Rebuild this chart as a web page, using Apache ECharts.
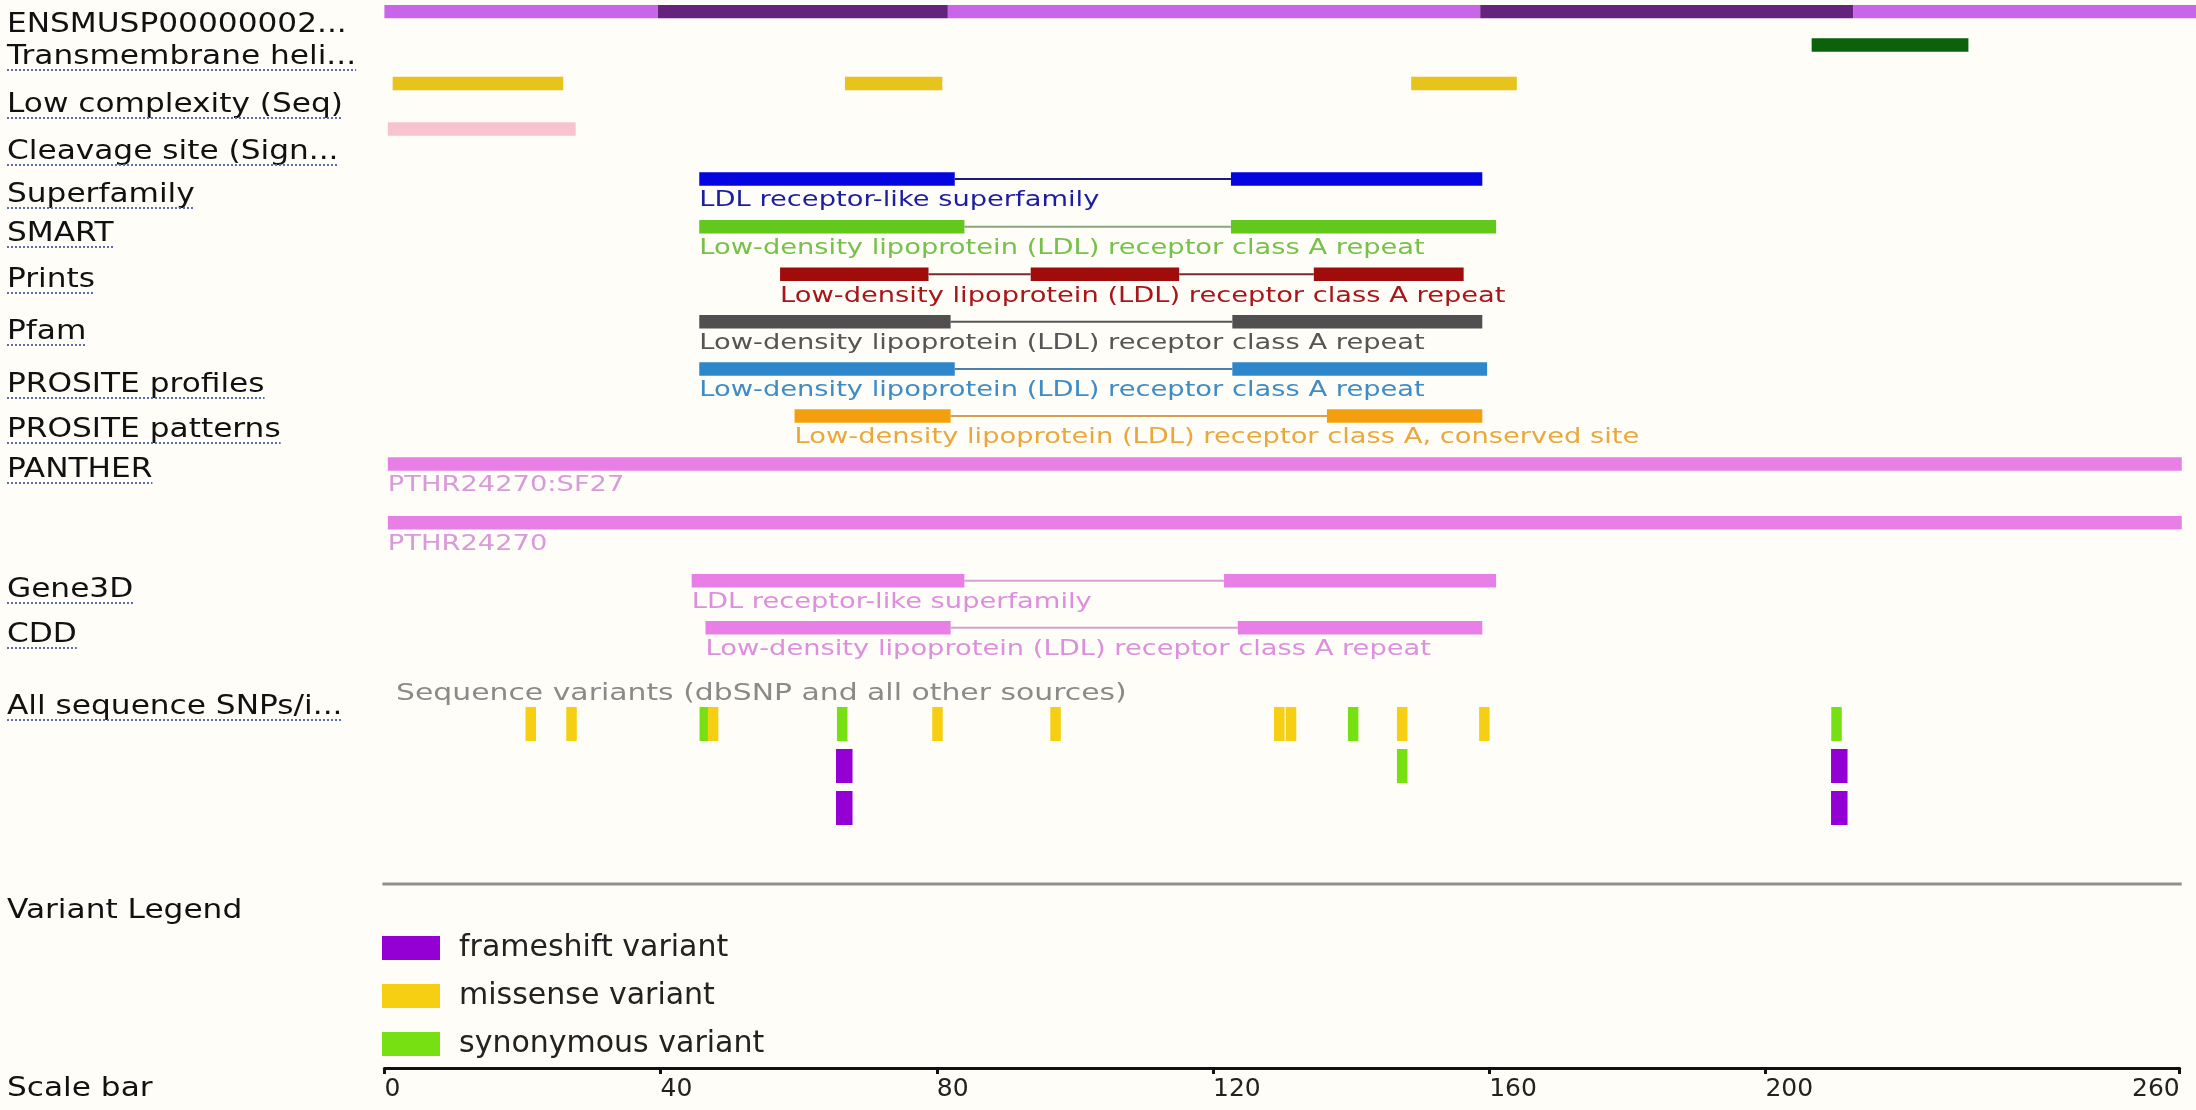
<!DOCTYPE html>
<html><head><meta charset="utf-8">
<script src="https://cdn.jsdelivr.net/npm/echarts@6/dist/echarts.min.js"></script>
<style>html,body{margin:0;padding:0;background:#fefdf7}#c{width:2196px;height:1110px}</style>
</head><body><div id="c"></div>
<script>
// ================= DATA (residue positions) =================
const rowLabels = ['ENSMUSP00000002...', 'Transmembrane heli...', 'Low complexity (Seq)', 'Cleavage site (Sign...',
  'Superfamily', 'SMART', 'Prints', 'Pfam', 'PROSITE profiles', 'PROSITE patterns', 'PANTHER', 'Gene3D', 'CDD',
  'All sequence SNPs/i...', 'Variant Legend', 'Scale bar'];
const exonBoundaries = [0, 39.6, 81.6, 158.7, 212.7, 262.5];
const transmembrane = [[206.7, 229.4]];
const lowComplexity = [[1.2, 25.9], [66.7, 80.8], [148.7, 164.0]];
const cleavageSite = [[0.5, 27.7]];
const superfamily = [[45.6, 82.6], [122.6, 159.0]];
const smart = [[45.6, 84.0], [122.6, 161.0]];
const prints = [[57.3, 78.8], [93.6, 115.1], [134.6, 156.3]];
const pfam = [[45.6, 82.0], [122.8, 159.0]];
const prositeProfiles = [[45.6, 82.6], [122.8, 159.7]];
const prositePatterns = [[59.4, 82.0], [136.5, 159.0]];
const pantherSF27 = [[0.5, 260.3]];
const panther = [[0.5, 260.3]];
const gene3d = [[44.5, 84.0], [121.6, 161.0]];
const cdd = [[46.5, 82.0], [123.6, 159.0]];
const ldlRepeat = 'Low-density lipoprotein (LDL) receptor class A repeat';
const ldlSuperfamily = 'LDL receptor-like superfamily';
const variantCaption = 'Sequence variants (dbSNP and all other sources)';
const variantTypes = ['frameshift variant', 'missense variant', 'synonymous variant'];
// [residue position, stack lane]
const frameshiftVariants = [[66.6, 2], [66.6, 3], [210.7, 2], [210.7, 3]];
const missenseVariants = [[21.2, 1], [27.1, 1], [47.6, 1], [80.1, 1], [97.2, 1], [129.6, 1], [131.3, 1], [147.4, 1], [159.3, 1]];
const synonymousVariants = [[46.4, 1], [66.3, 1], [140.3, 1], [147.4, 2], [210.3, 1]];
const scaleTicks = [0, 40, 80, 120, 160, 200, 260];
const scaleMax = 260;

// ================= LAYOUT / STYLE =================
const FONT = '"DejaVu Sans", Verdana, sans-serif';
const BAR_H = 13.4;
const SX = 1.27;
const tracks = [
  {seg: transmembrane, top: 38.3, color: '#0b620b'},
  {seg: lowComplexity, top: 76.8, color: '#e7c31c'},
  {seg: cleavageSite, top: 122.3, color: '#f7c4cd'},
  {seg: superfamily, top: 172.3, color: '#0505e0', line: '#1b1b7a', text: '#1d1da0', label: ldlSuperfamily},
  {seg: smart, top: 220, color: '#62c81c', line: '#8aa67a', text: '#77c04a', label: ldlRepeat},
  {seg: prints, top: 267.5, color: '#a00c0c', line: '#7a2a2a', text: '#a8161a', label: ldlRepeat},
  {seg: pfam, top: 315, color: '#505050', line: '#555555', text: '#555555', label: ldlRepeat},
  {seg: prositeProfiles, top: 362.3, color: '#2f87cb', line: '#4a7fa8', text: '#3e8cc6', label: ldlRepeat},
  {seg: prositePatterns, top: 409.3, color: '#f4a00e', line: '#d8a050', text: '#eaa83c', label: 'Low-density lipoprotein (LDL) receptor class A, conserved site'},
  {seg: pantherSF27, top: 457.3, color: '#e77fe7', text: '#d99ad9', label: 'PTHR24270:SF27'},
  {seg: panther, top: 516, color: '#e77fe7', text: '#d99ad9', label: 'PTHR24270'},
  {seg: gene3d, top: 574, color: '#e77fe7', line: '#d6a0d6', text: '#dd8fdd', label: ldlSuperfamily},
  {seg: cdd, top: 621, color: '#e77fe7', line: '#d6a0d6', text: '#dd8fdd', label: ldlRepeat}
];
const rowBaselines = [33, 65, 113, 160, 203, 242, 288, 340, 393, 438, 478, 598, 643, 715, 919, 1097];
const rowUnderlined = [false, true, true, true, true, true, true, true, true, true, true, true, true, true, false, false];
const laneTop = {1: 707, 2: 749, 3: 791};
const LANE_H = 34;
const variantColors = ['#9400d3', '#f7cf12', '#76e012'];
const variantWidths = [16.5, 10.5, 10.5];

// ================= BUILD =================
const chart = echarts.init(document.getElementById('c'), null, {renderer: 'canvas'});
const measureCtx = document.createElement('canvas').getContext('2d');
function textWidth(t, size) { measureCtx.font = size + 'px ' + FONT; return measureCtx.measureText(t).width; }

const domainItems = [];
tracks.forEach((tr, ti) => tr.seg.forEach((s, si) => domainItems.push({value: [s[0], s[1]], ti: ti, si: si})));

const exonItems = [];
for (let i = 0; i < exonBoundaries.length - 1; i++) exonItems.push({value: [exonBoundaries[i], exonBoundaries[i + 1]], idx: i});

function domainRender(params, api) {
  const it = domainItems[params.dataIndex];
  const tr = tracks[it.ti];
  const top = api.coord([0, tr.top])[1];
  const x0 = api.coord([api.value(0), tr.top])[0];
  const x1 = api.coord([api.value(1), tr.top])[0];
  const children = [{type: 'rect', shape: {x: x0, y: top, width: x1 - x0, height: BAR_H}, style: {fill: tr.color}}];
  if (it.si > 0 && tr.line) {
    const prevEnd = api.coord([tr.seg[it.si - 1][1], tr.top])[0];
    children.push({type: 'line', shape: {x1: prevEnd, y1: top + BAR_H / 2, x2: x0, y2: top + BAR_H / 2}, style: {stroke: tr.line, lineWidth: 2}});
  }
  if (it.si === 0 && tr.label) {
    const F = 21.5;
    children.push({type: 'text', x: x0, y: top + 35 - 0.3 * F, scaleX: SX,
      style: {text: tr.label, fill: tr.text, fontSize: F, fontFamily: FONT, align: 'left', verticalAlign: 'middle'}});
  }
  return {type: 'group', children: children};
}

function exonRender(params, api) {
  const it = exonItems[params.dataIndex];
  const top = api.coord([0, 5])[1];
  const x0 = api.coord([api.value(0), 5])[0];
  const x1 = api.coord([api.value(1), 5])[0];
  return {type: 'rect', shape: {x: x0, y: top, width: x1 - x0, height: 13.3}, style: {fill: it.idx % 2 ? '#64247e' : '#c865e8'}};
}

function makeVariantSeries(k, list) {
  return {
    type: 'custom', name: variantTypes[k], color: variantColors[k], itemStyle: {color: variantColors[k]},
    clip: false, silent: true, z: 3 + (k === 1 ? 1 : 0),
    data: list.map(v => ({value: [v[0], v[1]]})),
    renderItem: function (params, api) {
      const lane = api.value(1);
      const c = api.coord([api.value(0), laneTop[lane]]);
      const w = variantWidths[k];
      return {type: 'rect', shape: {x: c[0] - w / 2, y: c[1], width: w, height: LANE_H}, style: {fill: variantColors[k]}};
    }
  };
}

const graphics = [];
rowLabels.forEach((t, i) => {
  const F = 26, sx = 1.2;
  graphics.push({type: 'text', x: 7, y: rowBaselines[i] - 0.3 * F, scaleX: sx, silent: true,
    style: {text: t, fill: '#111111', fontSize: F, fontFamily: FONT, align: 'left', verticalAlign: 'middle'}});
  if (rowUnderlined[i]) {
    const w = textWidth(t, F) * sx;
    graphics.push({type: 'line', silent: true, shape: {x1: 7, y1: rowBaselines[i] + 5, x2: 7 + w, y2: rowBaselines[i] + 5},
      style: {stroke: '#5c6ea8', lineWidth: 2, lineDash: [2, 2]}});
  }
});
graphics.push({type: 'text', x: 396, y: 701 - 0.3 * 23.5, scaleX: SX, silent: true,
  style: {text: variantCaption, fill: '#8a8a8a', fontSize: 23.5, fontFamily: FONT, align: 'left', verticalAlign: 'middle'}});

const gridBox = {left: 384.4, right: 16.3, top: 0, bottom: 42};
const option = {
  backgroundColor: '#fefdf7',
  animation: false,
  textStyle: {fontFamily: FONT},
  grid: [Object.assign({}, gridBox), Object.assign({}, gridBox)],
  xAxis: [
    {type: 'value', gridIndex: 0, min: 0, max: scaleMax, position: 'bottom',
      axisLine: {show: true, onZero: false, lineStyle: {color: '#111', width: 3}},
      axisTick: {show: true, customValues: scaleTicks, length: 6, inside: false, lineStyle: {color: '#111', width: 3}},
      axisLabel: {show: true, customValues: scaleTicks.slice(0, -1), align: 'left', margin: 9, fontSize: 25, color: '#222', fontFamily: FONT},
      splitLine: {show: false}},
    {type: 'value', gridIndex: 1, min: 0, max: scaleMax, position: 'bottom',
      axisLine: {show: false, onZero: false}, axisTick: {show: false},
      axisLabel: {show: true, customValues: scaleTicks.slice(-1), align: 'right', margin: 9, fontSize: 25, color: '#222', fontFamily: FONT},
      splitLine: {show: false}}
  ],
  yAxis: [
    {type: 'value', gridIndex: 0, min: 0, max: 1068, inverse: true, show: false},
    {type: 'value', gridIndex: 1, min: 0, max: 1068, inverse: true, show: false}
  ],
  legend: {
    data: variantTypes, orient: 'vertical', left: 382, top: 933, padding: 0,
    itemWidth: 58, itemHeight: 24, itemGap: 18, icon: 'rect', selectedMode: false,
    textStyle: {fontSize: 30, color: '#222', fontFamily: FONT, padding: [0, 0, 0, 14]}
  },
  graphic: graphics,
  series: [
    {type: 'custom', name: 'protein', clip: false, silent: true, data: exonItems, renderItem: exonRender},
    {type: 'custom', name: 'domains', clip: false, silent: true, data: domainItems, renderItem: domainRender},
    {type: 'custom', name: 'separator', clip: false, silent: true, data: [{value: [0, scaleMax]}],
      renderItem: function (params, api) {
        const a = api.coord([api.value(0), 884]);
        const b = api.coord([api.value(1), 884]);
        return {type: 'line', shape: {x1: a[0] - 2, y1: a[1], x2: b[0] + 2, y2: b[1]}, style: {stroke: '#8f8f8f', lineWidth: 3}};
      }},
    makeVariantSeries(0, frameshiftVariants),
    makeVariantSeries(2, synonymousVariants),
    makeVariantSeries(1, missenseVariants)
  ]
};
chart.setOption(option);
</script></body></html>
